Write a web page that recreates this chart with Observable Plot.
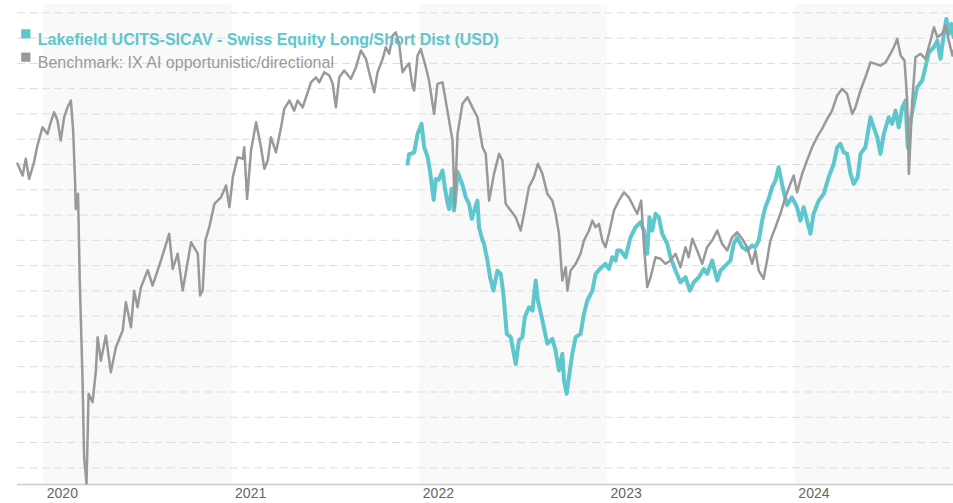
<!DOCTYPE html>
<html>
<head>
<meta charset="utf-8">
<script src="https://cdn.jsdelivr.net/npm/d3@7"></script>
<script src="https://cdn.jsdelivr.net/npm/@observablehq/plot@0.6"></script>
<style>
  body { margin: 0; background: #fff; }
  #chart { width: 953px; height: 503px; }
</style>
</head>
<body>
<div id="chart"></div>
<script>
// ---- Data (dates as decimal years, values as indexed level) ----
const fundName = "Lakefield UCITS-SICAV - Swiss Equity Long/Short Dist (USD)";
const benchmarkName = "Benchmark: IX AI opportunistic/directional";

const benchmark = [
[2019.860,170.3],[2019.887,165.6],[2019.904,172.3],[2019.922,164.3],[2019.948,170.9],[2019.966,177.5],[2019.993,184.7],[2020.020,182.1],[2020.037,186.7],[2020.055,190.7],[2020.073,187.4],[2020.090,179.5],[2020.108,188.7],[2020.126,192.6],[2020.144,195.3],[2020.156,183.4],[2020.166,163.6],[2020.170,152.4],[2020.182,158.4],[2020.191,124.1],[2020.206,84.5],[2020.214,54.2],[2020.227,43.7],[2020.238,79.3],[2020.259,76.0],[2020.277,88.5],[2020.286,101.7],[2020.303,92.4],[2020.330,102.3],[2020.356,87.8],[2020.383,97.7],[2020.419,104.3],[2020.436,115.5],[2020.463,105.6],[2020.480,120.1],[2020.498,113.5],[2020.516,121.4],[2020.552,128.2],[2020.578,122.1],[2020.622,132.0],[2020.666,142.6],[2020.685,128.7],[2020.711,134.7],[2020.738,120.1],[2020.782,139.2],[2020.818,134.7],[2020.830,118.2],[2020.844,120.1],[2020.858,140.0],[2020.879,145.2],[2020.906,154.4],[2020.941,157.0],[2020.968,161.7],[2020.986,153.1],
[2021.004,165.0],[2021.030,172.9],[2021.057,172.2],[2021.065,176.8],[2021.080,156.4],[2021.101,175.5],[2021.128,186.7],[2021.154,176.8],[2021.172,168.3],[2021.190,171.6],[2021.207,180.8],[2021.234,174.8],[2021.261,184.7],[2021.278,192.0],[2021.305,195.3],[2021.331,191.3],[2021.349,195.3],[2021.376,192.6],[2021.403,198.6],[2021.420,202.5],[2021.447,204.5],[2021.464,202.5],[2021.491,206.5],[2021.518,205.2],[2021.536,201.9],[2021.553,192.6],[2021.571,204.5],[2021.597,207.2],[2021.633,203.9],[2021.660,208.5],[2021.686,215.1],[2021.713,211.8],[2021.730,206.5],[2021.757,198.6],[2021.775,206.5],[2021.802,211.8],[2021.819,216.4],[2021.837,213.8],[2021.855,221.0],[2021.872,222.3],[2021.890,217.7],[2021.908,206.5],[2021.926,208.5],[2021.943,210.0],[2021.961,201.0],[2021.970,199.3],[2021.988,213.1],
[2022.005,215.7],[2022.032,208.5],[2022.049,203.2],[2022.076,190.0],[2022.094,201.9],[2022.121,202.5],[2022.147,191.3],[2022.174,179.5],[2022.186,153.1],[2022.201,182.1],[2022.227,194.0],[2022.254,196.6],[2022.280,192.6],[2022.307,188.7],[2022.334,176.8],[2022.351,174.2],[2022.369,155.7],[2022.395,166.3],[2022.422,174.2],[2022.440,171.6],[2022.457,154.5],[2022.484,151.8],[2022.511,149.1],[2022.537,143.9],[2022.555,150.5],[2022.581,161.0],[2022.608,165.0],[2022.629,170.3],[2022.653,166.3],[2022.679,158.4],[2022.706,155.7],[2022.723,150.5],[2022.741,142.6],[2022.759,124.1],[2022.777,129.4],[2022.786,120.1],[2022.803,128.0],[2022.830,130.7],[2022.856,134.7],[2022.874,139.9],[2022.901,143.9],[2022.919,147.8],[2022.936,145.2],[2022.954,146.5],[2022.972,139.9],[2022.989,137.3],
[2023.007,142.6],[2023.034,151.8],[2023.060,155.7],[2023.087,159.0],[2023.113,157.0],[2023.140,153.1],[2023.158,150.5],[2023.179,155.7],[2023.193,138.6],[2023.211,121.5],[2023.229,125.4],[2023.255,133.3],[2023.282,132.7],[2023.309,130.7],[2023.335,132.0],[2023.362,134.7],[2023.388,129.4],[2023.415,137.3],[2023.432,133.3],[2023.451,140.6],[2023.477,136.0],[2023.504,130.7],[2023.530,137.3],[2023.557,139.9],[2023.584,143.9],[2023.610,138.6],[2023.637,136.0],[2023.663,141.2],[2023.690,143.2],[2023.717,140.6],[2023.743,137.3],[2023.770,130.7],[2023.787,136.0],[2023.805,128.0],[2023.831,124.8],[2023.849,132.0],[2023.867,139.9],[2023.894,145.2],[2023.920,150.5],[2023.947,157.0],[2023.973,162.3],[2023.991,165.6],
[2024.009,159.0],[2024.036,166.3],[2024.062,171.6],[2024.089,176.8],[2024.115,180.8],[2024.142,184.1],[2024.169,188.0],[2024.195,191.3],[2024.222,197.3],[2024.248,199.9],[2024.275,197.9],[2024.302,190.0],[2024.319,192.6],[2024.346,199.3],[2024.372,204.5],[2024.399,210.4],[2024.426,209.8],[2024.452,209.1],[2024.479,210.4],[2024.505,213.8],[2024.523,216.4],[2024.541,219.7],[2024.559,213.1],[2024.580,211.1],[2024.594,195.3],[2024.603,166.3],[2024.621,195.3],[2024.638,212.4],[2024.665,213.8],[2024.691,211.8],[2024.718,219.0],[2024.736,224.3],[2024.754,220.4],[2024.780,221.7],[2024.798,225.0],[2024.815,219.0],[2024.834,213.1],[2024.840,215.0]
];

const fund = [
[2021.935,170.3],[2021.943,174.2],[2021.952,174.2],[2021.970,174.8],[2021.988,182.1],[2022.009,186.1],[2022.023,177.0],[2022.041,173.0],[2022.053,168.0],[2022.074,156.0],[2022.085,164.3],[2022.101,164.0],[2022.121,167.6],[2022.133,161.0],[2022.147,155.0],[2022.156,152.4],[2022.169,160.4],[2022.182,151.8],[2022.202,167.0],[2022.227,162.0],[2022.245,157.0],[2022.262,154.4],[2022.277,148.5],[2022.295,153.0],[2022.307,155.7],[2022.315,145.2],[2022.334,140.0],[2022.342,138.6],[2022.360,132.0],[2022.374,125.4],[2022.392,120.1],[2022.413,128.0],[2022.431,126.7],[2022.445,118.8],[2022.463,103.0],[2022.484,101.7],[2022.511,91.1],[2022.528,100.5],[2022.546,101.7],[2022.559,109.6],[2022.581,113.5],[2022.600,112.2],[2022.617,124.1],[2022.629,116.2],[2022.653,108.3],[2022.679,99.1],[2022.706,101.0],[2022.723,96.4],[2022.741,88.5],[2022.759,95.1],[2022.768,84.5],[2022.782,79.3],[2022.794,85.8],[2022.812,95.1],[2022.830,101.7],[2022.856,103.0],[2022.874,110.9],[2022.892,116.2],[2022.919,120.1],[2022.936,126.7],[2022.963,129.0],[2022.989,130.7],
[2023.007,128.7],[2023.025,133.3],[2023.043,132.0],[2023.052,136.0],[2023.069,136.0],[2023.096,133.3],[2023.122,141.2],[2023.149,145.2],[2023.176,147.2],[2023.193,143.9],[2023.211,134.7],[2023.223,149.1],[2023.238,143.9],[2023.255,150.5],[2023.273,149.1],[2023.291,142.6],[2023.318,138.6],[2023.335,133.3],[2023.362,128.0],[2023.388,123.4],[2023.415,125.4],[2023.438,120.1],[2023.459,123.4],[2023.486,125.4],[2023.512,128.7],[2023.530,126.7],[2023.557,132.0],[2023.584,124.1],[2023.601,128.0],[2023.628,130.0],[2023.654,132.0],[2023.672,138.6],[2023.690,141.2],[2023.717,137.3],[2023.743,136.0],[2023.770,138.0],[2023.787,137.3],[2023.805,139.9],[2023.823,147.8],[2023.840,153.1],[2023.858,156.4],[2023.876,161.0],[2023.894,163.6],[2023.911,168.9],[2023.929,162.3],[2023.941,158.4],[2023.956,154.0],[2023.982,157.0],
[2024.009,153.1],[2024.027,147.8],[2024.044,153.1],[2024.062,147.8],[2024.080,142.6],[2024.097,150.5],[2024.124,155.7],[2024.151,158.4],[2024.177,165.0],[2024.204,170.3],[2024.222,176.8],[2024.239,178.2],[2024.257,174.8],[2024.275,174.2],[2024.293,166.3],[2024.310,162.3],[2024.331,165.0],[2024.346,174.2],[2024.372,176.8],[2024.399,188.7],[2024.416,184.7],[2024.435,180.8],[2024.452,174.2],[2024.470,182.1],[2024.496,188.7],[2024.514,186.1],[2024.532,191.3],[2024.549,184.7],[2024.568,192.6],[2024.585,195.3],[2024.597,176.8],[2024.612,187.4],[2024.629,194.0],[2024.647,200.6],[2024.674,203.2],[2024.691,208.5],[2024.709,214.4],[2024.736,216.4],[2024.754,219.0],[2024.771,211.8],[2024.789,221.7],[2024.802,227.6],[2024.815,221.7],[2024.828,225.6],[2024.840,220.4]
];

const yearTicks = ["2020-01-01", "2021-01-01", "2022-01-01", "2023-01-01", "2024-01-01"];
const shadedBandStarts = ["2020-01-01", "2022-01-01", "2024-01-01"];
const shadedBandEnds = ["2021-01-01", "2023-01-01", "2025-01-01"];
const gridValues = [50, 60, 70, 80, 90, 100, 110, 120, 130, 140, 150, 160, 170, 180, 190, 200, 210, 220, 230];
const yDomain = [43.4, 233.3];

// ---- Helpers ----
function fromDecimalYear(t) {
  const y = Math.floor(t);
  const a = Date.UTC(y, 0, 1), b = Date.UTC(y + 1, 0, 1);
  return new Date(a + (t - y) * (b - a));
}
const toRows = (arr) => arr.map(([t, v]) => ({ date: fromDecimalYear(t), value: v }));
const benchRows = toRows(benchmark);
const fundRows = toRows(fund);
const bands = shadedBandStarts.map((s, i) => ({ start: new Date(s), end: new Date(shadedBandEnds[i]) }));
const xDomain = [benchRows[0].date, benchRows[benchRows.length - 1].date];

const teal = "#5ec6cd";
const gray = "#999999";
const font = "'Liberation Sans', Arial, Helvetica, sans-serif";

const chart = Plot.plot({
  width: 953,
  height: 503,
  marginLeft: 17,
  marginRight: 0,
  marginTop: 4,
  marginBottom: 19,
  style: { fontFamily: font, background: "#fff", overflow: "visible" },
  x: { type: "utc", domain: xDomain, axis: null },
  y: { domain: yDomain, axis: null },
  marks: [
    Plot.rect(bands, { x1: "start", x2: "end", fill: "#f9f9f9", clip: true }),
    Plot.ruleY(gridValues, { stroke: "#dcdcdc", strokeWidth: 1, strokeDasharray: "8,4.5" }),
    Plot.ruleY([yDomain[0]], { stroke: "#cccccc", strokeWidth: 1.5 }),
    Plot.axisX({
      ticks: yearTicks.map(d => new Date(d)),
      tickSize: 0,
      tickPadding: 4,
      textAnchor: "start",
      dx: 3,
      tickFormat: d3.utcFormat("%Y"),
      fontSize: 14,
      color: "#666"
    }),
    Plot.line(fundRows, { x: "date", y: "value", stroke: teal, strokeWidth: 4, strokeLinejoin: "round" }),
    Plot.line(benchRows, { x: "date", y: "value", stroke: gray, strokeWidth: 2.5, strokeLinejoin: "round" }),
    // legend
    Plot.dot([fundName], { frameAnchor: "top-left", dx: 8.3, dy: 29.3, symbol: "square", r: 5.2, fill: teal, stroke: null }),
    Plot.dot([benchmarkName], { frameAnchor: "top-left", dx: 8.3, dy: 52.7, symbol: "square", r: 5.2, fill: gray, stroke: null }),
    Plot.text([fundName], { text: d => d, frameAnchor: "top-left", dx: 20.3, dy: 29.2, textAnchor: "start", fill: teal, fontWeight: "bold", fontSize: 16 }),
    Plot.text([benchmarkName], { text: d => d, frameAnchor: "top-left", dx: 20.3, dy: 52.6, textAnchor: "start", fill: gray, fontSize: 16 })
  ]
});
document.getElementById("chart").appendChild(chart);
</script>
</body>
</html>
